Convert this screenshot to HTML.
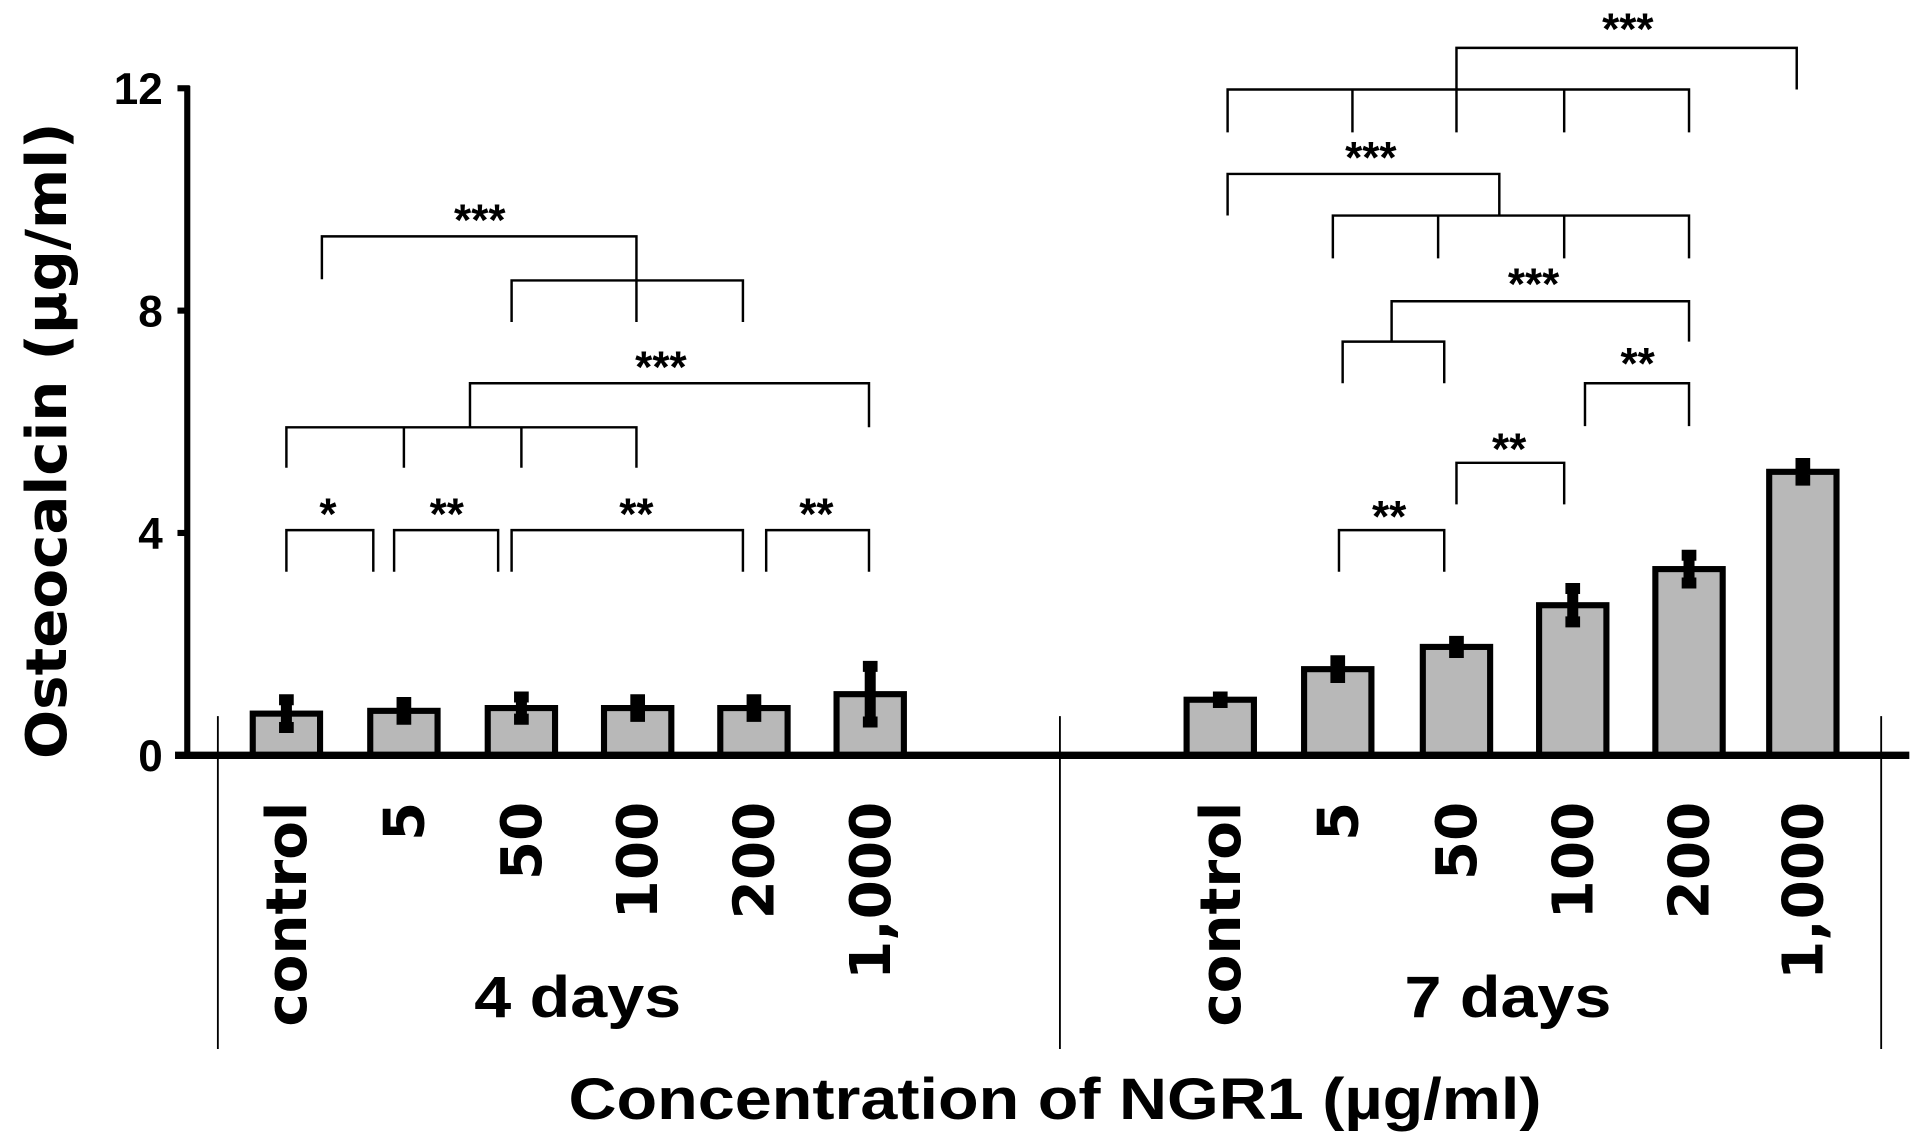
<!DOCTYPE html>
<html><head><meta charset="utf-8"><style>
html,body{margin:0;padding:0;background:#fff;}
svg{display:block;}
text{font-family:"Liberation Sans",Arial,sans-serif;font-weight:bold;fill:#000;}
.wide{font-family:"DejaVu Sans","Liberation Sans",sans-serif;}
</style></head><body>
<svg id="chart" width="1913" height="1141" viewBox="0 0 1563 932" xmlns="http://www.w3.org/2000/svg">
<g id="brackets" fill="none" stroke="#000" stroke-width="2"></g>
<g id="bars"></g>
<g id="axes"></g>
</svg>
<script>
const categories = ["control","5","50","100","200","1,000"];
const groups = ["4 days","7 days"];
const values4 = [0.75,0.8,0.85,0.85,0.85,1.1];
const errors4 = [0.25,0.15,0.2,0.15,0.15,0.5];
const values7 = [1.0,1.55,1.95,2.7,3.35,5.1];
const errors7 = [0.05,0.15,0.1,0.3,0.25,0.15];
const yTicks = [0,4,8,12];

const NS="http://www.w3.org/2000/svg";
const svg=document.getElementById('chart');
const gB=document.getElementById('bars'), gA=document.getElementById('axes'), gK=document.getElementById('brackets');
const y0=617, pxPerUnit=(617-72)/12;
function yS(v){return y0-v*pxPerUnit;}
const centers=[[234,330,426,521,616,711],[997,1093,1190,1285,1380,1473]];
function xS(g,i){return centers[g][i];}
function mk(tag,attrs,parent){const e=document.createElementNS(NS,tag);for(const k in attrs)e.setAttribute(k,attrs[k]);parent.appendChild(e);return e;}

let e;
e=mk('line',{x1:153,y1:70,x2:153,y2:619,stroke:'#000','stroke-width':5},gA);


e=mk('line',{x1:143,y1:617,x2:1560,y2:617,stroke:'#000','stroke-width':6},gA);


yTicks.forEach(t=>{
  const l=mk('line',{x1:145,y1:yS(t),x2:155,y2:yS(t),stroke:'#000','stroke-width':5},gA);
  
  
  const tx=mk('text',{x:133,y:yS(t)+13,'text-anchor':'end','font-size':36},gA);
  tx.textContent=t;
  
  
});
[178,866,1537].forEach(x=>{
  const l=mk('line',{x1:x,y1:585,x2:x,y2:857,stroke:'#000','stroke-width':1.5},gA);
  
  
});
e=mk('text',{x:0,y:0,'text-anchor':'middle','font-size':46,'class':'wide',textLength:520,lengthAdjust:'spacingAndGlyphs',transform:'translate(54,360) rotate(-90)'},gA);
e.textContent='Osteocalcin (µg/ml)';


e=mk('text',{x:862,y:914,'text-anchor':'middle','font-size':48,textLength:795,lengthAdjust:'spacingAndGlyphs'},gA);
e.textContent='Concentration of NGR1 (µg/ml)';


[[472,'4 days'],[1232,'7 days']].forEach((g,gi)=>{
  const t=mk('text',{x:g[0],y:831,'text-anchor':'middle','font-size':48,textLength:169,lengthAdjust:'spacingAndGlyphs'},gA);
  t.textContent=groups[gi];
  
  
});

[[values4,errors4],[values7,errors7]].forEach((s,g)=>{
  s[0].forEach((v,i)=>{
    const cx=xS(g,i), w=55;
    const r=mk('rect',{x:cx-w/2,y:yS(v),width:w,height:y0-yS(v),fill:'#b8b8b8',stroke:'#000','stroke-width':5},gB);
    
    
    const er=s[1][i];
    const eb=mk('path',{d:`M${cx},${yS(v+er)}V${yS(v-er)}M${cx-6},${yS(v+er)}H${cx+6}M${cx-6},${yS(v-er)}H${cx+6}`,stroke:'#000','stroke-width':9,fill:'none'},gB);
    
    
    const lb=mk('text',{x:0,y:0,'text-anchor':'end','font-size':46,'class':'wide',transform:`translate(${cx+16},655) rotate(-90)`},gB);
    lb.textContent=categories[i];
    
    
  });
});

const paths=[
 "M234,467V433H305V467","M322,467V433H407V467","M418,467V433H607V467","M626,467V433H710V467",
 "M234,382V349H520V382M330,349V382M426,349V382M384,349V313H710V349",
 "M418,263V229H607V263M520,229V263M520,229V193H263V228",
 "M1094,467V433H1180V467","M1190,412V378H1278V412","M1295,348V313H1380V348",
 "M1097,313V279H1180V313M1137,279V246H1380V279",
 "M1089,211V176H1380V211M1175,176V211M1278,176V211M1225,176V142H1003V176",
 "M1003,108V73H1380V108M1105,73V108M1190,73V108M1278,73V108M1190,73V39H1468V73"
];
paths.forEach(d=>{
  const p=mk('path',{d:d},gK);
  
  
});
const stars=[[268,432,'*'],[365,432,'**'],[520,432,'**'],[667,432,'**'],[540,312,'***'],[392,192,'***'],
 [1135,434,'**'],[1233,379,'**'],[1338,309,'**'],[1253,244,'***'],[1120,141,'***'],[1330,36,'***']];
stars.forEach(s=>{
  const t=mk('text',{x:s[0],y:s[1],'text-anchor':'middle','font-size':36},svg);
  t.textContent=s[2];
  
  
});
</script>
</body></html>
